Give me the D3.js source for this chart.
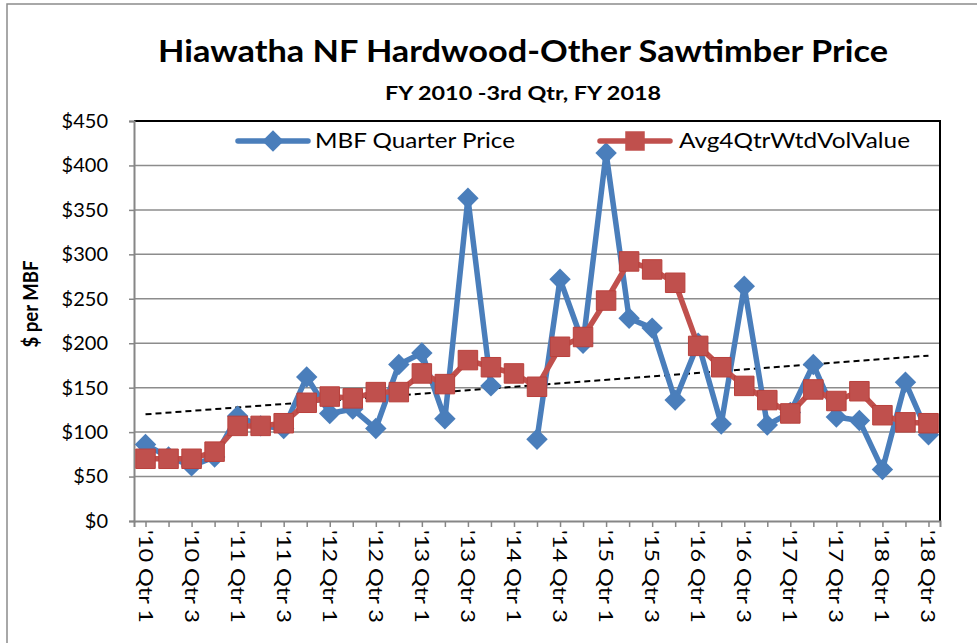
<!DOCTYPE html>
<html>
<head>
<meta charset="utf-8">
<script src="https://cdn.jsdelivr.net/npm/d3@7"></script>
<style>
  body { margin: 0; background: #fff; }
  svg { display: block; font-family: Lato, "Open Sans", sans-serif; }
</style>
</head>
<body>
<svg id="chart"></svg>
<script>
// quarters shown on the x axis
const quarters = [
  "'10 Qtr 1", "'10 Qtr 2", "'10 Qtr 3", "'10 Qtr 4",
  "'11 Qtr 1", "'11 Qtr 2", "'11 Qtr 3", "'11 Qtr 4",
  "'12 Qtr 1", "'12 Qtr 2", "'12 Qtr 3", "'12 Qtr 4",
  "'13 Qtr 1", "'13 Qtr 2", "'13 Qtr 3", "'13 Qtr 4",
  "'14 Qtr 1", "'14 Qtr 2", "'14 Qtr 3", "'14 Qtr 4",
  "'15 Qtr 1", "'15 Qtr 2", "'15 Qtr 3", "'15 Qtr 4",
  "'16 Qtr 1", "'16 Qtr 2", "'16 Qtr 3", "'16 Qtr 4",
  "'17 Qtr 1", "'17 Qtr 2", "'17 Qtr 3", "'17 Qtr 4",
  "'18 Qtr 1", "'18 Qtr 2", "'18 Qtr 3"
]

// MBF Quarter Price (null = no sale that quarter)
const quarterPrice = [
  86, 72, 62, 72, 118, 107, 104, 162, 121, 126, 104, 176,
  189, 115, 363, 152, null, 92, 272, 200, 414, 228, 217, 136,
  200, 109, 264, 108, 122, 176, 117, 113, 58, 156, 97
]

// Avg4QtrWtdVolValue
const avgValue = [
  70, 70, 70, 78, 107, 107, 110, 133, 140, 138, 145, 145,
  166, 154, 181, 173, 166, 151, 196, 207, 248, 292, 283, 268,
  197, 173, 152, 136, 121, 148, 135, 146, 119, 111, 110
]

// linear trendline of quarter price, value at first and last quarter
const trendEnds = [120, 186]

const yTicks = [0, 50, 100, 150, 200, 250, 300, 350, 400, 450]

const width = 977
const height = 643
const plot = { left: 134, right: 940, top: 121, bottom: 521 }

const blue = '#4A7EBB'
const red = '#C0504D'

const svg = d3.select('#chart')
    .attr('width', width)
    .attr('height', height)

// outer chart border
svg.append('rect')
    .attr('x', 7).attr('y', 4)
    .attr('width', 1000).attr('height', 700)
    .attr('fill', 'none')
    .attr('stroke', '#8c8c8c')
    .attr('stroke-width', 1.5)

// titles
svg.append('text')
    .attr('x', 523).attr('y', 62)
    .attr('text-anchor', 'middle')
    .attr('font-weight', 'bold')
    .attr('font-size', 31)
    .attr('textLength', 730)
    .attr('lengthAdjust', 'spacingAndGlyphs')
    .text('Hiawatha NF Hardwood-Other Sawtimber Price')

svg.append('text')
    .attr('x', 523).attr('y', 100)
    .attr('text-anchor', 'middle')
    .attr('font-weight', 'bold')
    .attr('font-size', 19)
    .attr('textLength', 276)
    .attr('lengthAdjust', 'spacingAndGlyphs')
    .text('FY 2010 -3rd Qtr, FY 2018')

const x = d3.scalePoint()
    .domain(d3.range(quarters.length))
    .range([plot.left, plot.right])
    .padding(0.5)

const y = d3.scaleLinear()
    .domain([0, 450])
    .range([plot.bottom, plot.top])

// gridlines
svg.append('g')
    .selectAll('line')
    .data(yTicks.slice(1))
    .join('line')
    .attr('x1', plot.left).attr('x2', plot.right)
    .attr('y1', d => y(d)).attr('y2', d => y(d))
    .attr('stroke', '#8c8c8c')
    .attr('stroke-width', 1.5)

// plot area border (top / right dark)
svg.append('path')
    .attr('d', `M${plot.left},${plot.top}H${plot.right}V${plot.bottom}`)
    .attr('fill', 'none')
    .attr('stroke', '#000')
    .attr('stroke-width', 2)

// y axis
const yAxis = svg.append('g')
    .attr('transform', `translate(${plot.left},0)`)
    .call(d3.axisLeft(y).tickValues(yTicks).tickSize(5).tickPadding(21).tickFormat(d => '$' + d))
yAxis.select('.domain').attr('stroke', '#868686').attr('stroke-width', 2)
yAxis.selectAll('.tick line').attr('stroke', '#868686').attr('stroke-width', 1.5)
yAxis.selectAll('.tick text')
    .attr('font-family', 'Lato, sans-serif')
    .attr('font-size', 20)
    .attr('fill', '#000')

svg.append('text')
    .attr('transform', 'translate(38,304) rotate(-90)')
    .attr('text-anchor', 'middle')
    .attr('font-weight', 'bold')
    .attr('font-size', 20)
    .attr('textLength', 87)
    .attr('lengthAdjust', 'spacingAndGlyphs')
    .text('$ per MBF')

// x axis
const xAxis = svg.append('g')
    .attr('transform', `translate(0,${plot.bottom})`)
    .call(d3.axisBottom(x).tickSize(6).tickSizeOuter(6).tickFormat(''))
xAxis.select('.domain').attr('stroke', '#868686').attr('stroke-width', 2)
xAxis.selectAll('.tick line').attr('stroke', '#868686').attr('stroke-width', 1.5)

svg.append('g')
    .selectAll('text')
    .data(quarters.map((q, i) => ({ q, i })).filter(d => d.i % 2 === 0))
    .join('text')
    .attr('transform', d => `translate(${x(d.i) - 7},${plot.bottom + 9}) rotate(90)`)
    .attr('font-size', 20)
    .attr('textLength', 93)
    .attr('lengthAdjust', 'spacingAndGlyphs')
    .attr('fill', '#000')
    .text(d => d.q)

// trendline
const last = quarters.length - 1
svg.append('line')
    .attr('x1', x(0)).attr('y1', y(trendEnds[0]))
    .attr('x2', x(last)).attr('y2', y(trendEnds[1]))
    .attr('stroke', '#000')
    .attr('stroke-width', 2)
    .attr('stroke-dasharray', '6,4')

const line = d3.line()
    .defined(d => d != null)
    .x((d, i) => x(i))
    .y(d => y(d))

// MBF Quarter Price
svg.append('path')
    .datum(quarterPrice)
    .attr('d', line)
    .attr('fill', 'none')
    .attr('stroke', blue)
    .attr('stroke-width', 5.5)
    .attr('stroke-linejoin', 'round')

const diamond = d3.symbol(d3.symbolSquare, 230)
svg.append('g')
    .selectAll('path')
    .data(quarterPrice.map((v, i) => ({ v, i })).filter(d => d.v != null))
    .join('path')
    .attr('d', diamond)
    .attr('transform', d => `translate(${x(d.i)},${y(d.v)}) rotate(45)`)
    .attr('fill', blue)

// Avg4QtrWtdVolValue
svg.append('path')
    .datum(avgValue)
    .attr('d', line)
    .attr('fill', 'none')
    .attr('stroke', red)
    .attr('stroke-width', 5.5)
    .attr('stroke-linejoin', 'round')

const square = d3.symbol(d3.symbolSquare, 380)
svg.append('g')
    .selectAll('path')
    .data(avgValue.map((v, i) => ({ v, i })))
    .join('path')
    .attr('d', square)
    .attr('transform', d => `translate(${x(d.i)},${y(d.v)})`)
    .attr('fill', red)
    .attr('stroke', '#B9403C')
    .attr('stroke-width', 1)

// legend
const legend = [
  { name: 'MBF Quarter Price', color: blue, x0: 238, sym: diamond, rot: 45, tx: 315, tl: 200 },
  { name: 'Avg4QtrWtdVolValue', color: red, x0: 600, sym: square, rot: 0, tx: 679, tl: 231 }
]
const lg = svg.append('g')
    .selectAll('g')
    .data(legend)
    .join('g')
    .attr('transform', d => `translate(${d.x0},141)`)
lg.append('line')
    .attr('x1', 0).attr('x2', 70)
    .attr('stroke', d => d.color)
    .attr('stroke-width', 5.5)
    .attr('stroke-linecap', 'round')
lg.append('path')
    .attr('d', d => d.sym())
    .attr('transform', d => `translate(35,0) rotate(${d.rot})`)
    .attr('fill', d => d.color)
lg.append('text')
    .attr('x', d => d.tx - d.x0)
    .attr('y', 7)
    .attr('font-size', 21)
    .attr('textLength', d => d.tl)
    .attr('lengthAdjust', 'spacingAndGlyphs')
    .text(d => d.name)
</script>
</body>
</html>
